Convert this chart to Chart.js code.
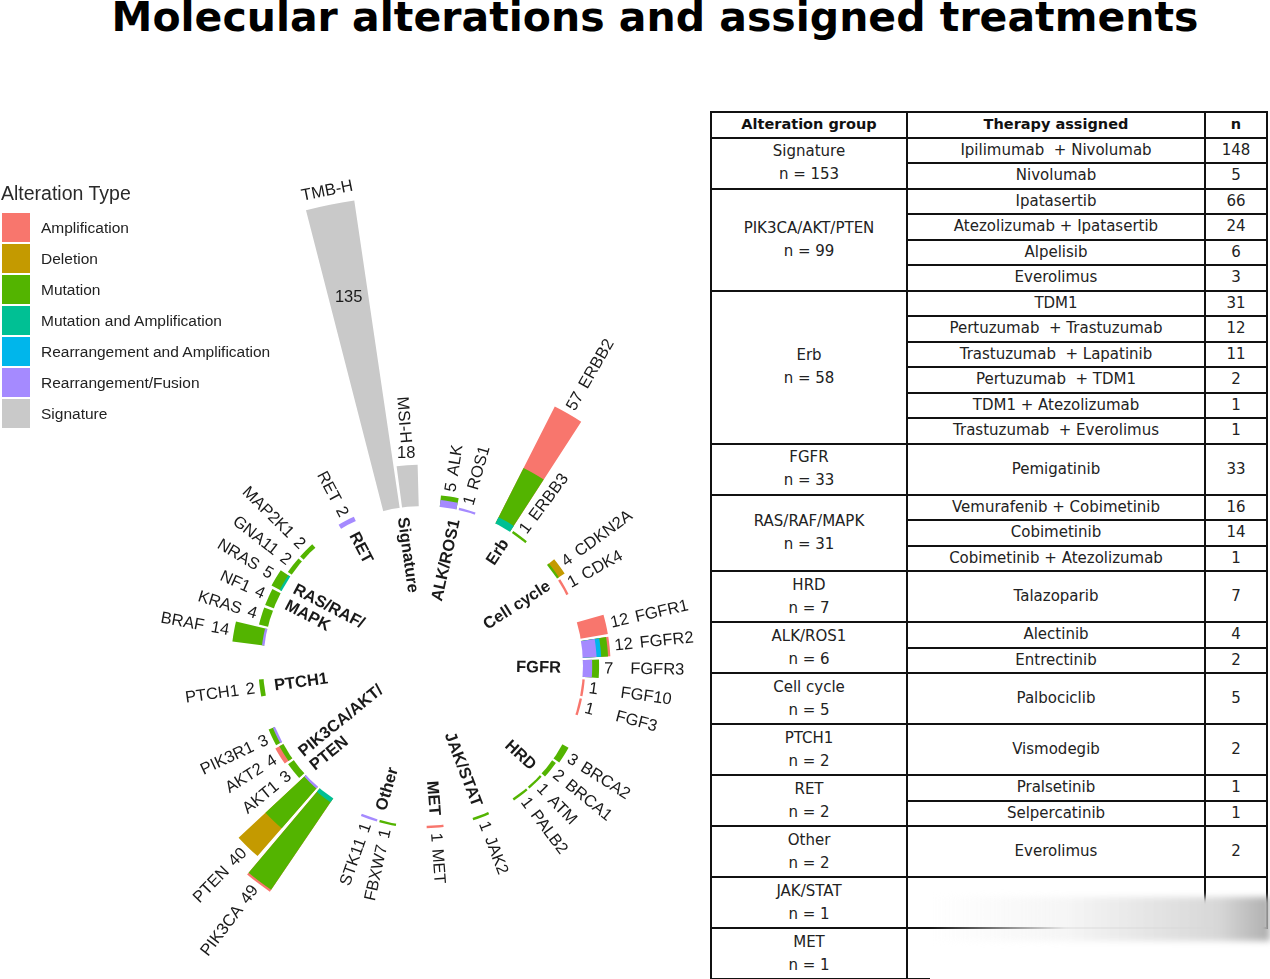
<!DOCTYPE html>
<html>
<head>
<meta charset="utf-8">
<script src="https://cdn.jsdelivr.net/npm/chart.js@4.4.0/dist/chart.umd.min.js"></script>
<style>
  body { margin: 0; background: #fff; width: 1270px; height: 979px; overflow: hidden; position: relative; }
  #titre { position: absolute; left: 0; top: -3px; width: 1310px; text-align: center;
           font: bold 41px/41px "DejaVu Sans", sans-serif; color: #000; white-space: nowrap; }
  #graphique { position: absolute; left: 0; top: 0; }
  #legende { position: absolute; left: 0; top: 0; font-family: "Liberation Sans", Arial, sans-serif; color: #222; }
  #legende .titre-leg { position: absolute; left: 1px; top: 182px; font-size: 19.5px; white-space: nowrap; color: #2a2a2a; }
  #legende .case { position: absolute; left: 2px; width: 28px; height: 29px; }
  #legende .txt { position: absolute; left: 41px; font-size: 15.5px; white-space: nowrap; line-height: 29px; }
  #tableau { position: absolute; left: 710px; top: 111px; width: 558px; border-collapse: collapse; table-layout: fixed;
             font-family: "DejaVu Sans", sans-serif; font-size: 15px; color: #222; }
  #tableau td, #tableau th { border: 2.5px solid #111; padding: 0; text-align: center; white-space: pre; line-height: 23px; }
  #tableau th { font-size: 14.5px; font-weight: bold; color: #111; }
  #voile1 { position: absolute; left: 930px; top: 929px; width: 340px; height: 50px; background: #fff; }
  #voile2 { position: absolute; left: 930px; top: 897px; width: 340px; height: 44px;
            background: linear-gradient(to right, rgba(255,255,255,0) 0%, rgba(245,245,245,0.95) 40%, rgba(215,215,215,1) 85%, rgba(175,175,175,1) 100%);
            filter: blur(3px); }
</style>
</head>
<body>
<div id="titre">Molecular alterations and assigned treatments</div>
<canvas id="graphique" width="705" height="979"></canvas>
<div id="legende"></div>
<table id="tableau"></table>
<div id="voile1"></div>
<div id="voile2"></div>
<script>
// genes autour du cercle (sens horaire, en partant de TMB-H)
const genes = ['TMB-H', 'MSI-H', 'ALK', 'ROS1', 'ERBB2', 'ERBB3', 'CDKN2A', 'CDK4',
  'FGFR1', 'FGFR2', 'FGFR3', 'FGF10', 'FGF3', 'BRCA2', 'BRCA1', 'ATM', 'PALB2',
  'JAK2', 'MET', 'FBXW7', 'STK11', 'PIK3CA', 'PTEN', 'AKT1', 'AKT2', 'PIK3R1',
  'PTCH1', 'BRAF', 'KRAS', 'NF1', 'NRAS', 'GNA11', 'MAP2K1', 'RET'];
const groupes = ['Signature', 'Signature', 'ALK/ROS1', 'ALK/ROS1', 'Erb', 'Erb', 'Cell cycle', 'Cell cycle',
  'FGFR', 'FGFR', 'FGFR', 'FGFR', 'FGFR', 'HRD', 'HRD', 'HRD', 'HRD',
  'JAK/STAT', 'MET', 'Other', 'Other', 'PIK3CA/AKT/PTEN', 'PIK3CA/AKT/PTEN', 'PIK3CA/AKT/PTEN', 'PIK3CA/AKT/PTEN', 'PIK3CA/AKT/PTEN',
  'PTCH1', 'RAS/RAF/MAPK', 'RAS/RAF/MAPK', 'RAS/RAF/MAPK', 'RAS/RAF/MAPK', 'RAS/RAF/MAPK', 'RAS/RAF/MAPK', 'RET'];

// nombre de patients par type d'alteration (meme ordre que genes)
const amplification  = [0, 0, 0, 0, 30, 0, 0, 1, 12, 1, 0, 1, 1, 0, 0, 0, 0, 0, 1, 0, 0, 1, 0, 0, 2, 0, 0, 0, 0, 0, 0, 0, 0, 0];
const deletion       = [0, 0, 0, 0, 0, 0, 3, 0, 0, 0, 0, 0, 0, 0, 0, 0, 0, 0, 0, 0, 0, 0, 16, 0, 0, 0, 0, 0, 0, 0, 0, 0, 0, 0];
const mutation       = [0, 0, 2, 0, 24, 1, 1, 0, 0, 3, 3, 0, 0, 3, 2, 1, 1, 1, 0, 1, 0, 46, 23, 3, 2, 2, 2, 13, 4, 4, 4, 2, 2, 0];
const mutationAmp    = [0, 0, 0, 0, 3, 0, 0, 0, 0, 0, 0, 0, 0, 0, 0, 0, 0, 0, 0, 0, 0, 2, 0, 0, 0, 0, 0, 0, 0, 0, 1, 0, 0, 0];
const rearrangeAmp   = [0, 0, 0, 0, 0, 0, 0, 0, 0, 2, 0, 0, 0, 0, 0, 0, 0, 0, 0, 0, 0, 0, 0, 0, 0, 0, 0, 0, 0, 0, 0, 0, 0, 0];
const rearrangeFus   = [0, 0, 3, 1, 0, 0, 0, 0, 0, 6, 4, 0, 0, 0, 0, 0, 0, 0, 0, 0, 1, 0, 1, 0, 0, 1, 0, 1, 0, 0, 0, 0, 0, 2];
const signature      = [135, 18, 0, 0, 0, 0, 0, 0, 0, 0, 0, 0, 0, 0, 0, 0, 0, 0, 0, 0, 0, 0, 0, 0, 0, 0, 0, 0, 0, 0, 0, 0, 0, 0];

const typesLabels = ['Amplification', 'Deletion', 'Mutation', 'Mutation and Amplification',
  'Rearrangement and Amplification', 'Rearrangement/Fusion', 'Signature'];
const typesColors = ['#F8766D', '#C49A00', '#53B400', '#00C094', '#00B6EB', '#A58AFF', '#C9C9C9'];

// tableau de droite
const tabGroupes = ['Signature', 'PIK3CA/AKT/PTEN', 'Erb', 'FGFR', 'RAS/RAF/MAPK', 'HRD', 'ALK/ROS1',
  'Cell cycle', 'PTCH1', 'RET', 'Other', 'JAK/STAT', 'MET'];
const tabGroupesN = [153, 99, 58, 33, 31, 7, 6, 5, 2, 2, 2, 1, 1];
const tabTherapies = [
  ['Ipilimumab  + Nivolumab', 'Nivolumab'],
  ['Ipatasertib', 'Atezolizumab + Ipatasertib', 'Alpelisib', 'Everolimus'],
  ['TDM1', 'Pertuzumab  + Trastuzumab', 'Trastuzumab  + Lapatinib', 'Pertuzumab  + TDM1', 'TDM1 + Atezolizumab', 'Trastuzumab  + Everolimus'],
  ['Pemigatinib'],
  ['Vemurafenib + Cobimetinib', 'Cobimetinib', 'Cobimetinib + Atezolizumab'],
  ['Talazoparib'],
  ['Alectinib', 'Entrectinib'],
  ['Palbociclib'],
  ['Vismodegib'],
  ['Pralsetinib', 'Selpercatinib'],
  ['Everolimus'],
  [''],
  ['']];
const tabTherapiesN = [[148, 5], [66, 24, 6, 3], [31, 12, 11, 2, 1, 1], [33], [16, 14, 1], [7], [4, 2], [5], [2], [1, 1], [2], [''], ['']];

// --- mise en page du cercle (degres) ---
const barAngle = 6.0;
const stepIn = 6.87;
// ecart apres chaque groupe (Signature -> ALK/ROS1, ... , RET -> Signature)
const groupGaps = [13.5, 14, 17, 16.4, 17.6, 16, 16.7, 16.9, 17.6, 17.6, 18, 17.4, 16.4];
const firstBarCenter = 348.6;
const innerRadius = 160;
const pxPerUnit = 2.3;
const halfArea = 240;

// angles de chaque element (barre puis espace)
let nIn = 0;
genes.forEach((g, i) => { if (groupes[(i + 1) % genes.length] === groupes[i]) nIn++; });
const gapSum = groupGaps.reduce((a, b) => a + b, 0);
const gapScale = (360 - nIn * stepIn) / gapSum;
const angles = [];
const elementLabels = [];
let gapIdx = 0;
genes.forEach((g, i) => {
  angles.push(barAngle);
  elementLabels.push(g);
  let step = stepIn;
  if (groupes[(i + 1) % genes.length] !== groupes[i]) {
    step = groupGaps[gapIdx] * gapScale;
    gapIdx++;
  }
  angles.push(step - barAngle);
  elementLabels.push('');
});

// empilement de l'interieur vers l'exterieur
const stackOrder = [signature, rearrangeFus, rearrangeAmp, mutationAmp, mutation, deletion, amplification];
const stackColors = [typesColors[6], typesColors[5], typesColors[4], typesColors[3], typesColors[2], typesColors[1], typesColors[0]];
const totals = genes.map((g, i) => stackOrder.reduce((s, arr) => s + arr[i], 0));

function interleave(values) {
  const out = [];
  values.forEach(v => { out.push(v); out.push(0); });
  return out;
}

// un dataset par niveau cumule, le plus interieur dessine en dernier (dessus)
const datasets = [];
let cumul = genes.map(() => 0);
stackOrder.forEach((arr, k) => {
  cumul = cumul.map((v, i) => v + arr[i]);
  const seg = interleave(arr);
  datasets.push({
    label: typesLabels[6 - k],
    data: interleave(cumul),
    backgroundColor: (c) => seg[c.dataIndex] > 0 ? stackColors[k] : 'rgba(0,0,0,0)',
    borderWidth: 0,
    angle: (c) => angles[c.dataIndex]
  });
});

// retouches de placement des etiquettes
const labelTweaks = {
  'TMB-H': { numberAt: 94, flatNumber: true, tangentName: true },
  'MSI-H': { flatNumber: true },
  'FGFR3': { nameShift: 10 },
  'FGF10': { nameShift: 16 },
  'FGF3': { nameShift: 16 }
};
const groupNames = { 'RAS/RAF/MAPK': ['RAS/RAF/', 'MAPK'], 'PIK3CA/AKT/PTEN': ['PIK3CA/AKT/', 'PTEN'] };
const groupInset = { 'FGFR': 12 };

const FONT = '16.5px "Liberation Sans", Arial, sans-serif';
const FONT_BOLD = 'bold 16.5px "Liberation Sans", Arial, sans-serif';

function textAt(ctx, x0, y0, phi, rad, text, rot, align, dy) {
  ctx.save();
  ctx.translate(x0 + rad * Math.cos(phi), y0 + rad * Math.sin(phi));
  ctx.rotate(rot);
  ctx.textAlign = align;
  ctx.textBaseline = 'middle';
  ctx.fillText(text, 0, dy || 0);
  ctx.restore();
}

const etiquettes = {
  id: 'etiquettes',
  afterDatasetsDraw(chart) {
    const ctx = chart.ctx;
    const scale = chart.scales.r;
    const cx = scale.xCenter, cy = scale.yCenter;
    const arcs = chart.getDatasetMeta(0).data;
    ctx.save();

    // trou central (les barres partent de la valeur 0)
    ctx.fillStyle = '#ffffff';
    ctx.beginPath();
    ctx.arc(cx, cy, scale.getDistanceFromCenterForValue(0), 0, Math.PI * 2);
    ctx.fill();

    ctx.fillStyle = '#1a1a1a';

    // noms des genes + effectifs
    genes.forEach((g, i) => {
      const arc = arcs[2 * i];
      const phi = (arc.startAngle + arc.endAngle) / 2;
      const rEnd = scale.getDistanceFromCenterForValue(totals[i]);
      const tw = labelTweaks[g] || {};
      const right = Math.cos(phi) > 0;
      const rot = right ? phi : phi + Math.PI;
      const align = right ? 'left' : 'right';
      const num = String(totals[i]);
      ctx.font = FONT;
      const numW = ctx.measureText(num).width;
      if (tw.numberAt !== undefined) {
        textAt(ctx, cx, cy, phi, scale.getDistanceFromCenterForValue(tw.numberAt), num, 0, 'center');
      } else if (tw.flatNumber) {
        textAt(ctx, cx, cy, phi, rEnd + 12, num, 0, 'center');
      } else {
        textAt(ctx, cx, cy, phi, rEnd + 5, num, rot, align);
      }
      if (tw.tangentName) {
        textAt(ctx, cx, cy, phi, rEnd + 14, g, phi + Math.PI / 2, 'center');
      } else if (tw.flatNumber) {
        textAt(ctx, cx, cy, phi, rEnd + 22, g, rot, align);
      } else {
        textAt(ctx, cx, cy, phi, rEnd + 5 + numW + 7 + (tw.nameShift || 0), g, rot, align);
      }
    });

    // noms des groupes (a l'interieur)
    ctx.font = FONT_BOLD;
    const vus = [];
    groupes.forEach(gr => { if (!vus.includes(gr)) vus.push(gr); });
    vus.forEach(gr => {
      const first = groupes.indexOf(gr);
      const last = groupes.lastIndexOf(gr);
      const phi = (arcs[2 * first].startAngle + arcs[2 * last].endAngle) / 2;
      const right = Math.cos(phi) > 0;
      const rot = right ? phi : phi + Math.PI;
      const align = right ? 'right' : 'left';
      const lines = groupNames[gr] || [gr];
      lines.forEach((line, k) => {
        const dy = (k - (lines.length - 1) / 2) * 18;
        textAt(ctx, cx, cy, phi, innerRadius - 10 - (groupInset[gr] || 0), line, rot, align, dy);
      });
    });
    ctx.restore();
  }
};

const graph = document.getElementById('graphique');
const minVal = -innerRadius / pxPerUnit;
const maxVal = minVal + halfArea / pxPerUnit;

new Chart(graph, {
  type: 'polarArea',
  data: { labels: elementLabels, datasets: datasets },
  options: {
    responsive: false,
    animation: false,
    events: [],
    layout: { padding: { left: 183, right: 42, top: 426, bottom: 73 } },
    scales: {
      r: {
        display: false,
        min: minVal,
        max: maxVal,
        startAngle: firstBarCenter - barAngle / 2
      }
    },
    plugins: { legend: { display: false }, tooltip: { enabled: false } }
  },
  plugins: [etiquettes]
});

// legende
const legende = document.getElementById('legende');
let html = '<div class="titre-leg">Alteration Type</div>';
typesLabels.forEach((t, k) => {
  const y = 213 + k * 31;
  html += '<div class="case" style="top:' + y + 'px;background:' + typesColors[k] + '"></div>';
  html += '<div class="txt" style="top:' + y + 'px">' + t + '</div>';
});
legende.innerHTML = html;

// tableau
const rowH = 25.5;
let rows = '<tr style="height:' + rowH + 'px"><th style="width:194px">Alteration group</th><th style="width:296px">Therapy assigned</th><th>n</th></tr>';
tabGroupes.forEach((gr, g) => {
  const ther = tabTherapies[g];
  const cellGroupe = gr + '\nn = ' + tabGroupesN[g];
  if (ther.length === 1) {
    rows += '<tr style="height:' + (2 * rowH) + 'px"><td>' + cellGroupe + '</td><td>' + ther[0] + '</td><td>' + tabTherapiesN[g][0] + '</td></tr>';
  } else {
    ther.forEach((t, j) => {
      rows += '<tr style="height:' + rowH + 'px">';
      if (j === 0) rows += '<td rowspan="' + ther.length + '">' + cellGroupe + '</td>';
      rows += '<td>' + t + '</td><td>' + tabTherapiesN[g][j] + '</td></tr>';
    });
  }
});
document.getElementById('tableau').innerHTML = rows;
</script>
</body>
</html>
